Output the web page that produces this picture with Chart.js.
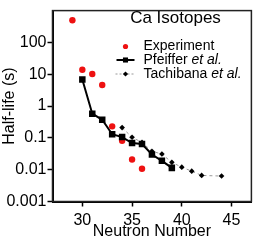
<!DOCTYPE html>
<html>
<head>
<meta charset="utf-8">
<script src="https://cdn.jsdelivr.net/npm/chart.js@4/dist/chart.umd.min.js"></script>
<style>
  html, body { margin: 0; padding: 0; background: #fff; }
  #wrap { width: 256px; height: 241px; }
</style>
</head>
<body>
<div id="wrap"><canvas id="myChart" width="256" height="241"></canvas></div>
<script>
// Data
const expN = [29, 30, 31, 32, 33, 34, 35, 36];
const expHalfLife = [500, 13.8, 10.2, 4.6, 0.23, 0.081, 0.021, 0.0107];

const pfeifferN = [30, 31, 32, 33, 34, 35, 36, 37, 38, 39];
const pfeifferHalfLife = [6.8, 0.575, 0.37, 0.13, 0.106, 0.069, 0.064, 0.030, 0.019, 0.0114];

const tachibanaN = [34, 35, 36, 37, 38, 39, 40, 41, 42, 44];
const tachibanaHalfLife = [0.21, 0.104, 0.072, 0.038, 0.031, 0.017, 0.012, 0.009, 0.0066, 0.0063];

const xTicks = [30, 35, 40, 45];
const yTicks = [0.001, 0.01, 0.1, 1, 10, 100];
const yTickLabels = ["0.001", "0.01", "0.1", "1", "10", "100"];

const legendTitle = "Ca Isotopes";
const seriesNames = ["Experiment", "Pfeiffer ", "Tachibana "];

const FONT = '"Liberation Sans", Arial, sans-serif';

const toPoints = (xs, ys) => xs.map((x, i) => ({ x: x, y: ys[i] }));

// frame around plot area (top/right too)
const framePlugin = {
    id: "frame",
    afterDatasetsDraw(chart) {
        const a = chart.chartArea;
        const ctx = chart.ctx;
        ctx.save();
        ctx.strokeStyle = "#222";
        ctx.lineWidth = 1.5;
        ctx.strokeRect(a.left, a.top, a.right - a.left, a.bottom - a.top);
        ctx.restore();
    },
};

// legend with title and italic "et al."
const legendPlugin = {
    id: "caLegend",
    afterDraw(chart) {
        const ctx = chart.ctx;
        const a = chart.chartArea;
        const x0 = a.left + 73; // symbol centre
        const tx = a.left + 91; // text start
        const rows = [46.5, 60, 74];
        ctx.save();
        ctx.fillStyle = "#000";
        ctx.textBaseline = "middle";
        ctx.textAlign = "center";
        ctx.font = "17px " + FONT;
        ctx.fillText(legendTitle, a.left + 123, 18.5);

        ctx.textAlign = "left";
        // Experiment
        ctx.fillStyle = "#ee1111";
        Chart.helpers.drawPoint(ctx, { pointStyle: "circle", radius: 2.6, borderWidth: 0 }, x0, rows[0]);
        // Pfeiffer
        ctx.strokeStyle = "#000";
        ctx.lineWidth = 2;
        ctx.beginPath();
        ctx.moveTo(x0 - 9, rows[1]);
        ctx.lineTo(x0 + 9, rows[1]);
        ctx.stroke();
        ctx.fillStyle = "#000";
        Chart.helpers.drawPoint(ctx, { pointStyle: "rect", radius: 3.6, borderWidth: 0 }, x0, rows[1]);
        // Tachibana
        ctx.strokeStyle = "#999";
        ctx.lineWidth = 1;
        ctx.setLineDash([2, 2]);
        ctx.beginPath();
        ctx.moveTo(x0 - 10, rows[2]);
        ctx.lineTo(x0 + 10, rows[2]);
        ctx.stroke();
        ctx.setLineDash([]);
        Chart.helpers.drawPoint(ctx, { pointStyle: "rectRot", radius: 2.6, borderWidth: 0 }, x0, rows[2]);

        ctx.fillStyle = "#000";
        ctx.font = "14px " + FONT;
        ctx.fillText(seriesNames[0], tx, rows[0]);
        for (let i = 1; i < 3; i++) {
            ctx.font = "14px " + FONT;
            ctx.fillText(seriesNames[i], tx, rows[i]);
            const w = ctx.measureText(seriesNames[i]).width;
            ctx.font = "italic 14px " + FONT;
            ctx.fillText("et al.", tx + w, rows[i]);
        }
        ctx.restore();
    },
};

const ctx = document.getElementById("myChart").getContext("2d");

const myChart = new Chart(ctx, {
    type: "scatter",
    data: {
        datasets: [
            {
                label: "Pfeiffer et al.",
                data: toPoints(pfeifferN, pfeifferHalfLife),
                showLine: true,
                borderColor: "#000",
                backgroundColor: "#000",
                borderWidth: 2,
                pointStyle: "rect",
                pointRadius: 4.6,
                pointBorderWidth: 0,
            },
            {
                label: "Tachibana et al.",
                data: toPoints(tachibanaN, tachibanaHalfLife),
                showLine: true,
                borderColor: "#999",
                borderWidth: 1,
                borderDash: [3, 3],
                backgroundColor: "#000",
                pointBackgroundColor: "#000",
                pointStyle: "rectRot",
                pointRadius: 2.8,
                pointBorderWidth: 0,
            },
            {
                label: "Experiment",
                data: toPoints(expN, expHalfLife),
                backgroundColor: "#ee1111",
                pointStyle: "circle",
                pointRadius: 3.2,
                pointBorderWidth: 0,
            },
        ],
    },
    options: {
        responsive: false,
        animation: false,
        devicePixelRatio: 1,
        layout: { padding: { top: 1.5, right: 3.5, left: 0, bottom: 0 } },
        plugins: {
            legend: { display: false },
            tooltip: { enabled: false },
        },
        scales: {
            x: {
                type: "linear",
                min: 27,
                max: 47,
                afterBuildTicks: (s) => { s.ticks = xTicks.map((v) => ({ value: v })); },
                afterFit: (s) => { s.height = 39.5; },
                grid: { drawOnChartArea: false, drawTicks: true, tickLength: 5, tickColor: "#000", tickWidth: 1.5 },
                border: { display: true, color: "#000", width: 2 },
                ticks: { color: "#000", font: { size: 16, family: FONT }, padding: 4, maxRotation: 0 },
                title: { display: true, text: "Neutron Number", color: "#000", font: { size: 16, family: FONT }, padding: 0 },
            },
            y: {
                type: "logarithmic",
                min: 0.001,
                max: 1000,
                afterBuildTicks: (s) => { s.ticks = yTicks.map((v) => ({ value: v })); },
                afterFit: (s) => { s.width = 52.5; },
                grid: { drawOnChartArea: false, drawTicks: true, tickLength: 5, tickColor: "#000", tickWidth: 1.5 },
                border: { display: true, color: "#000", width: 2 },
                ticks: {
                    color: "#000",
                    font: { size: 16, family: FONT },
                    padding: 1,
                    callback: (v) => { const i = yTicks.indexOf(v); return i >= 0 ? yTickLabels[i] : ""; },
                },
                title: { display: true, text: "Half-life (s)", color: "#000", font: { size: 16, family: FONT }, padding: 0 },
            },
        },
    },
    plugins: [framePlugin, legendPlugin],
});
</script>
</body>
</html>
